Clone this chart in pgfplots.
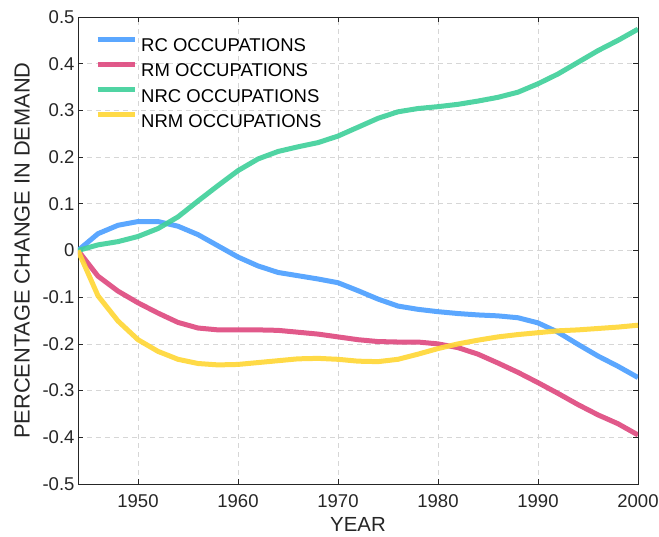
\documentclass[border=0pt]{standalone}
\usepackage{fontspec}
\setmainfont{Liberation Sans}
\usepackage{pgfplots}
\usepackage{pgfplotstable}
\pgfplotsset{compat=1.18}
\definecolor{cRC}{RGB}{77,160,255}
\definecolor{cRM}{RGB}{222,75,128}
\definecolor{cNRC}{RGB}{65,208,155}
\definecolor{cNRM}{RGB}{255,215,55}
\definecolor{axc}{RGB}{38,38,38}
\pgfplotstableread{
year RC RM NRC NRM
1944 0 0 0 0
1946 0.036 -0.055 0.012 -0.097
1948 0.054 -0.087 0.019 -0.151
1950 0.062 -0.112 0.030 -0.191
1952 0.062 -0.134 0.047 -0.216
1954 0.052 -0.154 0.072 -0.233
1956 0.034 -0.166 0.106 -0.242
1958 0.010 -0.170 0.139 -0.245
1960 -0.014 -0.170 0.171 -0.244
1962 -0.033 -0.170 0.196 -0.240
1964 -0.047 -0.171 0.212 -0.236
1966 -0.054 -0.175 0.222 -0.232
1968 -0.061 -0.179 0.231 -0.231
1970 -0.069 -0.185 0.245 -0.233
1972 -0.086 -0.191 0.264 -0.237
1974 -0.104 -0.195 0.283 -0.238
1976 -0.119 -0.196 0.297 -0.233
1978 -0.126 -0.196 0.304 -0.222
1980 -0.131 -0.200 0.308 -0.210
1982 -0.135 -0.208 0.313 -0.200
1984 -0.138 -0.222 0.320 -0.192
1986 -0.140 -0.241 0.328 -0.185
1988 -0.144 -0.261 0.339 -0.180
1990 -0.155 -0.283 0.357 -0.176
1992 -0.175 -0.306 0.378 -0.172
1994 -0.201 -0.330 0.403 -0.170
1996 -0.226 -0.352 0.428 -0.167
1998 -0.248 -0.371 0.450 -0.164
2000 -0.272 -0.395 0.474 -0.160
}\datatable
\begin{document}
\begin{tikzpicture}
\useasboundingbox (-78pt,-53pt) rectangle (581pt,484pt);
\begin{axis}[
  scale only axis,
  width=560pt, height=467pt,
  xmin=1944, xmax=2000, ymin=-0.5, ymax=0.5,
  xtick={1950,1960,1970,1980,1990,2000},
  ytick={-0.5,-0.4,-0.3,-0.2,-0.1,0,0.1,0.2,0.3,0.4,0.5},
  yticklabels={-0.5,-0.4,-0.3,-0.2,-0.1,0,0.1,0.2,0.3,0.4,0.5},
  xticklabels={1950,1960,1970,1980,1990,2000},
  tick align=inside,
  major tick length=5pt,
  tick style={axc, line width=0.6pt},
  axis line style={axc, line width=0.6pt},
  grid=major,
  major grid style={black!16, dash pattern=on 5pt off 4pt, line width=0.6pt},
  ticklabel style={font=\fontsize{18.5}{22}\selectfont, text=axc},
  xticklabel style={yshift=-7pt},
  xlabel={YEAR},
  ylabel={PERCENTAGE CHANGE IN DEMAND},
  xlabel style={at={(axis description cs:0.5,-0.071)}, anchor=north, inner sep=0pt, font=\fontsize{20.4}{24}\selectfont, text=axc},
  ylabel style={at={(axis description cs:-0.0857,0.5)}, anchor=south, inner sep=0pt, font=\fontsize{21.8}{26}\selectfont, text=axc},
  legend style={at={(axis description cs:0.0304,0.957)}, anchor=north west, draw=none, fill=none, inner sep=0pt,
    row sep=8.8pt, column sep=4pt,
    nodes={inner sep=0pt, font=\fontsize{18.5}{22}\selectfont, text=black}},
  legend cell align=left,
  legend image code/.code={\draw[#1, line width=5pt] (0pt,6.5pt) -- (37pt,6.5pt);},
  every axis plot/.append style={line width=5pt, line join=round, opacity=0.92},
]
\addplot[cRC] table[x=year, y=RC] {\datatable};
\addlegendentry{RC OCCUPATIONS}
\addplot[cRM] table[x=year, y=RM] {\datatable};
\addlegendentry{RM OCCUPATIONS}
\addplot[cNRC] table[x=year, y=NRC] {\datatable};
\addlegendentry{NRC OCCUPATIONS}
\addplot[cNRM] table[x=year, y=NRM] {\datatable};
\addlegendentry{NRM OCCUPATIONS}
\end{axis}
\end{tikzpicture}
\end{document}
